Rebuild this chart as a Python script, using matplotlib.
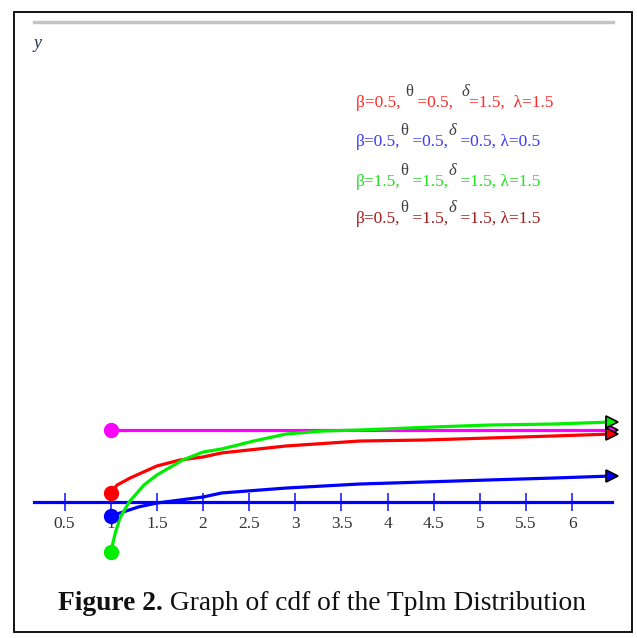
import matplotlib.pyplot as plt
from matplotlib.patches import Rectangle
from matplotlib.lines import Line2D

# curve data
x_red = [1, 1.07, 1.21, 1.5, 1.75, 2, 2.2, 2.9, 3.7, 4.4, 5.1, 5.8, 6.43]
y_red = [0.125, 0.236, 0.333, 0.5, 0.583, 0.625, 0.681, 0.778, 0.847, 0.861, 0.889, 0.917, 0.944]

x_green = [1, 1.05, 1.1, 1.2, 1.36, 1.5, 1.78, 2, 2.2, 2.55, 2.9, 3.3, 3.7, 4.5, 5.1, 5.8, 6.43]
y_green = [-0.694, -0.431, -0.222, 0.0, 0.236, 0.375, 0.583, 0.694, 0.736, 0.847, 0.944, 0.986,
           1.0, 1.042, 1.069, 1.083, 1.111]

x_blue = [1, 1.1, 1.3, 1.5, 2, 2.2, 2.9, 3.7, 4.4, 5.1, 5.8, 6.43]
y_blue = [-0.194, -0.153, -0.069, -0.014, 0.069, 0.125, 0.194, 0.25, 0.278, 0.306, 0.333, 0.361]

x_mag = [1, 6.43]
y_mag = [1.0, 1.0]

xticks = [0.5, 1, 1.5, 2, 2.5, 3, 3.5, 4, 4.5, 5, 5.5, 6]
xtick_labels = ['0.5', '1', '1.5', '2', '2.5', '3', '3.5', '4', '4.5', '5', '5.5', '6']

# legend lines: (text before theta, text before delta, rest, colour)
legend_rows = [
    ('β=0.5, ', ' =0.5,  ', '=1.5,  λ=1.5', '#ff2a2a'),
    ('β=0.5,', ' =0.5,', ' =0.5, λ=0.5', '#3a3aff'),
    ('β=1.5,', ' =1.5,', ' =1.5, λ=1.5', '#22e022'),
    ('β=0.5,', ' =1.5,', ' =1.5, λ=1.5', '#a01c1c'),
]

W, H = 637, 638
fx = lambda p: p / W
fy = lambda p: 1 - p / H

SERIF = 'Liberation Serif'
ppu_x, x0 = 92.3, 18.4     # pixels per x unit, pixel of x=0
ppu_y, y0 = 72.0, 502.0    # pixels per y unit, pixel of y=0

fig = plt.figure(figsize=(6.37, 6.38), dpi=100)
renderer = fig.canvas.get_renderer()
ax = fig.add_axes([0, 0, 1, 1])
ax.set_xlim(-x0 / ppu_x, (W - x0) / ppu_x)
ax.set_ylim((y0 - H) / ppu_y, y0 / ppu_y)

for s in ['left', 'right', 'top']:
    ax.spines[s].set_visible(False)
ax.spines['bottom'].set_position(('data', 0))
ax.spines['bottom'].set_color('#0000ff')
ax.spines['bottom'].set_linewidth(2.3)
ax.spines['bottom'].set_bounds(0.17, 6.43)
ax.set_yticks([])
ax.set_xticks(xticks, xtick_labels)
ax.tick_params(axis='x', direction='inout', length=12.5, width=1.2, color='#2020ff',
               labelcolor='#333333', pad=3.5, labelsize=12.5)
for lab in ax.get_xticklabels():
    lab.set_fontfamily(SERIF)

lw = 2.3
ax.plot(x_mag, y_mag, color='#ff00ff', lw=lw, zorder=3)
ax.plot(x_red, y_red, color='#ff0000', lw=lw, zorder=4)
ax.plot(x_blue, y_blue, color='#0000ff', lw=lw, zorder=4)
ax.plot(x_green, y_green, color='#00ee00', lw=lw, zorder=5)

for xs, ys, c in [(x_mag, y_mag, '#ff00ff'), (x_red, y_red, '#ff0000'),
                  (x_blue, y_blue, '#0000ff'), (x_green, y_green, '#00ee00')]:
    ax.plot(xs[0], ys[0], 'o', color=c, ms=10, zorder=6, clip_on=False)
    ax.plot(xs[-1], ys[-1], '>', color=c, ms=9, mec='black', mew=1.2, zorder=6, clip_on=False)


def put_run(px, py, pieces):
    # pieces: (text, dy pixels up, kwargs); laid out left to right on one baseline
    for txt, dy, kw in pieces:
        t = fig.text(fx(px), fy(py - dy), txt, va='baseline', ha='left', **kw)
        px += t.get_window_extent(renderer).width


# legend text
ys_leg = [107, 146, 186, 223]
for (a, b, c, col), yy in zip(legend_rows, ys_leg):
    main = dict(color=col, family=SERIF, fontsize=12.5)
    sup = dict(color='#404040', family=SERIF, fontsize=12)
    put_run(356, yy, [(a, 0, main), ('θ', 11, sup), (b, 0, main),
                      ('δ', 11, dict(sup, style='italic')), (c, 0, main)])

fig.text(fx(37), fy(44), 'y', family=SERIF, style='italic', fontsize=13, color='#223355',
         ha='center', va='center')

# frame and top rule
fig.add_artist(Rectangle((fx(14), fy(632)), fx(632) - fx(14), fy(12) - fy(632),
                         transform=fig.transFigure, fill=False, ec='black', lw=1.3))
fig.add_artist(Line2D([fx(34), fx(613)], [fy(22), fy(22)], transform=fig.transFigure,
                      color='#c4c4c4', lw=2.5))

# caption
cap = dict(family=SERIF, fontsize=19.8, color='#111111')
put_run(58, 610, [('Figure 2.', 0, dict(cap, fontweight='bold')),
                  (' Graph of cdf of the Tplm Distribution', 0, cap)])

fig.savefig('out.png', dpi=100)
